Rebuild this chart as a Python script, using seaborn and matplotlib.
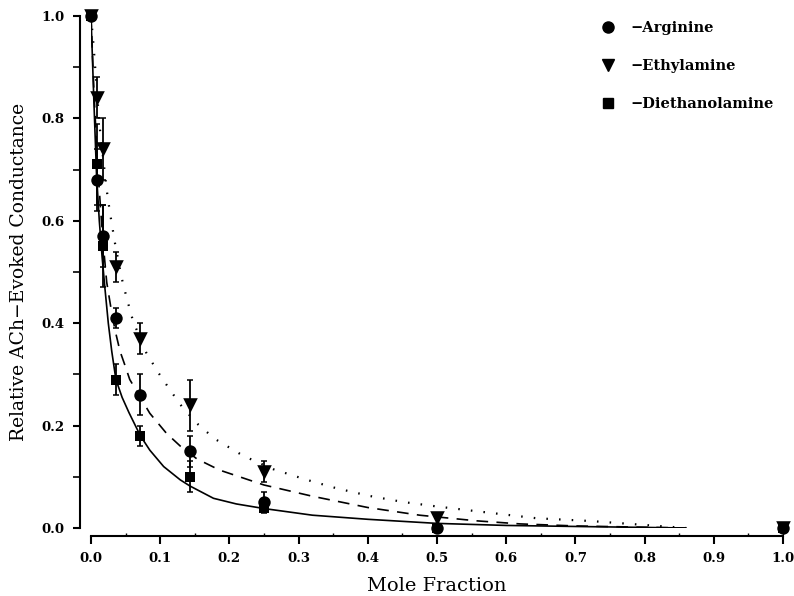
import numpy as np
import pandas as pd
import matplotlib
matplotlib.use("Agg")
import matplotlib.pyplot as plt
import seaborn as sns
from matplotlib.lines import Line2D
from matplotlib.ticker import MultipleLocator, FormatStrFormatter

# measured points
mole_frac = [0.0, 0.0089, 0.0179, 0.0357, 0.0714, 0.143, 0.25, 0.5, 1.0]
arginine = [1.0, 0.68, 0.57, 0.41, 0.26, 0.15, 0.05, 0.0, 0.0]
arginine_err = [0.0, 0.06, 0.06, 0.02, 0.04, 0.03, 0.02, 0.0, 0.0]
ethylamine = [1.0, 0.84, 0.74, 0.51, 0.37, 0.24, 0.11, 0.02, 0.0]
ethylamine_err = [0.0, 0.04, 0.06, 0.03, 0.03, 0.05, 0.02, 0.0, 0.0]
diethanol = [1.0, 0.71, 0.55, 0.29, 0.18, 0.10, 0.04, 0.0, 0.0]
diethanol_err = [0.0, 0.08, 0.08, 0.03, 0.02, 0.03, 0.0, 0.0, 0.0]

# fitted curves
solid_x = [0, 0.004, 0.008, 0.012, 0.016, 0.02, 0.025, 0.03, 0.036, 0.045, 0.055,
           0.0714, 0.085, 0.105, 0.129, 0.143, 0.177, 0.21, 0.25, 0.32, 0.40, 0.50,
           0.60, 0.70, 0.78, 0.86]
solid_y = [1.0, 0.84, 0.69, 0.60, 0.53, 0.47, 0.40, 0.345, 0.29, 0.255, 0.225,
           0.18, 0.152, 0.12, 0.094, 0.082, 0.058, 0.047, 0.038, 0.025, 0.017, 0.009,
           0.005, 0.003, 0.0015, 0.0]
dash_x = [0, 0.004, 0.009, 0.014, 0.018, 0.0227, 0.03, 0.035, 0.042, 0.049, 0.056,
          0.0714, 0.085, 0.109, 0.129, 0.153, 0.186, 0.25, 0.32, 0.40, 0.475, 0.557,
          0.62, 0.70, 0.78, 0.86]
dash_y = [1.0, 0.86, 0.72, 0.62, 0.55, 0.48, 0.42, 0.385, 0.345, 0.318, 0.29,
          0.255, 0.224, 0.185, 0.16, 0.135, 0.113, 0.084, 0.062, 0.040, 0.025, 0.014,
          0.008, 0.004, 0.002, 0.0]
dot_x = [0, 0.0034, 0.006, 0.012, 0.0227, 0.0275, 0.0347, 0.044, 0.0516, 0.061,
         0.080, 0.097, 0.114, 0.133, 0.155, 0.179, 0.22, 0.263, 0.312, 0.355, 0.403,
         0.451, 0.50, 0.562, 0.644, 0.721, 0.789, 0.86]
dot_y = [1.0, 0.947, 0.90, 0.79, 0.66, 0.615, 0.556, 0.49, 0.449, 0.403,
         0.342, 0.304, 0.27, 0.234, 0.202, 0.174, 0.141, 0.115, 0.094, 0.0775, 0.0625,
         0.0508, 0.042, 0.032, 0.019, 0.0137, 0.007, 0.0]

labels = ["\u2212Arginine", "\u2212Ethylamine", "\u2212Diethanolamine"]

sns.set_style("ticks")
plt.rcParams["font.family"] = ["DejaVu Serif"]
plt.rcParams["text.color"] = "black"
plt.rcParams["axes.labelcolor"] = "black"
plt.rcParams["xtick.color"] = "black"
plt.rcParams["ytick.color"] = "black"

fig = plt.figure(figsize=(7.94, 5.96), dpi=100)
ax = fig.add_axes([91 / 794, 68 / 596, 692 / 794, 512 / 596])

sns.lineplot(x=solid_x, y=solid_y, ax=ax, color="black", lw=1.2, sort=False,
             estimator=None)
sns.lineplot(x=dash_x, y=dash_y, ax=ax, color="black", lw=1.2, sort=False,
             estimator=None, linestyle=(0, (7, 5)))
sns.lineplot(x=dot_x, y=dot_y, ax=ax, color="black", lw=1.6, sort=False,
             estimator=None, linestyle=(0, (0.7, 5)))

for vals, errs in [(arginine, arginine_err), (ethylamine, ethylamine_err),
                   (diethanol, diethanol_err)]:
    ax.errorbar(mole_frac, vals, yerr=errs, fmt="none", ecolor="black",
                elinewidth=1.3, capsize=2.5, capthick=1.1, clip_on=False)

df = pd.DataFrame({"x": mole_frac * 3,
                   "y": diethanol + arginine + ethylamine,
                   "kind": ["s"] * 9 + ["o"] * 9 + ["v"] * 9})
for mk, size in [("s", 60), ("o", 80), ("v", 110)]:
    sub = df[df["kind"] == mk]
    sns.scatterplot(data=sub, x="x", y="y", ax=ax, marker=mk, s=size,
                    color="black", edgecolor="black", linewidth=0, clip_on=False,
                    zorder=5)

ax.set_xlim(0, 1)
ax.set_ylim(0, 1)
ax.spines["top"].set_visible(False)
ax.spines["right"].set_visible(False)
ax.spines["left"].set_position(("outward", 8))
ax.spines["bottom"].set_position(("outward", 6))
ax.spines["left"].set_bounds(0, 1)
ax.spines["bottom"].set_bounds(0, 1)
for s in ["left", "bottom"]:
    ax.spines[s].set_linewidth(1.5)
    ax.spines[s].set_color("black")

ax.xaxis.set_major_locator(MultipleLocator(0.1))
ax.xaxis.set_minor_locator(MultipleLocator(0.05))
ax.yaxis.set_major_locator(MultipleLocator(0.2))
ax.yaxis.set_minor_locator(MultipleLocator(0.1))
ax.xaxis.set_major_formatter(FormatStrFormatter("%.1f"))
ax.yaxis.set_major_formatter(FormatStrFormatter("%.1f"))
ax.tick_params(axis="x", which="major", direction="out", length=6, width=1.5,
               pad=5, labelsize=9.5)
ax.tick_params(axis="x", which="minor", direction="in", length=2, width=1)
ax.tick_params(axis="y", which="major", direction="out", length=5, width=1.5,
               pad=6, labelsize=9.5)
ax.tick_params(axis="y", which="minor", direction="out", length=5, width=1.2)
for t in ax.get_xticklabels() + ax.get_yticklabels():
    t.set_fontweight("bold")

ax.set_xlabel("Mole Fraction", fontsize=14, labelpad=9)
ax.set_ylabel("Relative ACh\u2212Evoked Conductance", fontsize=13.5, labelpad=10)

handles = [Line2D([], [], marker=m, color="black", ls="none", markersize=ms)
           for m, ms in [("o", 8), ("v", 9), ("s", 6.5)]]
ax.legend(handles, labels, loc="upper left", bbox_to_anchor=(588 / 794, 1 - 8 / 596),
          bbox_transform=fig.transFigure, frameon=False, handlelength=1.0,
          handletextpad=1.0, labelspacing=1.65,
          prop={"family": "DejaVu Serif", "weight": "bold", "size": 10.5})

fig.savefig("out.png", dpi=100)
